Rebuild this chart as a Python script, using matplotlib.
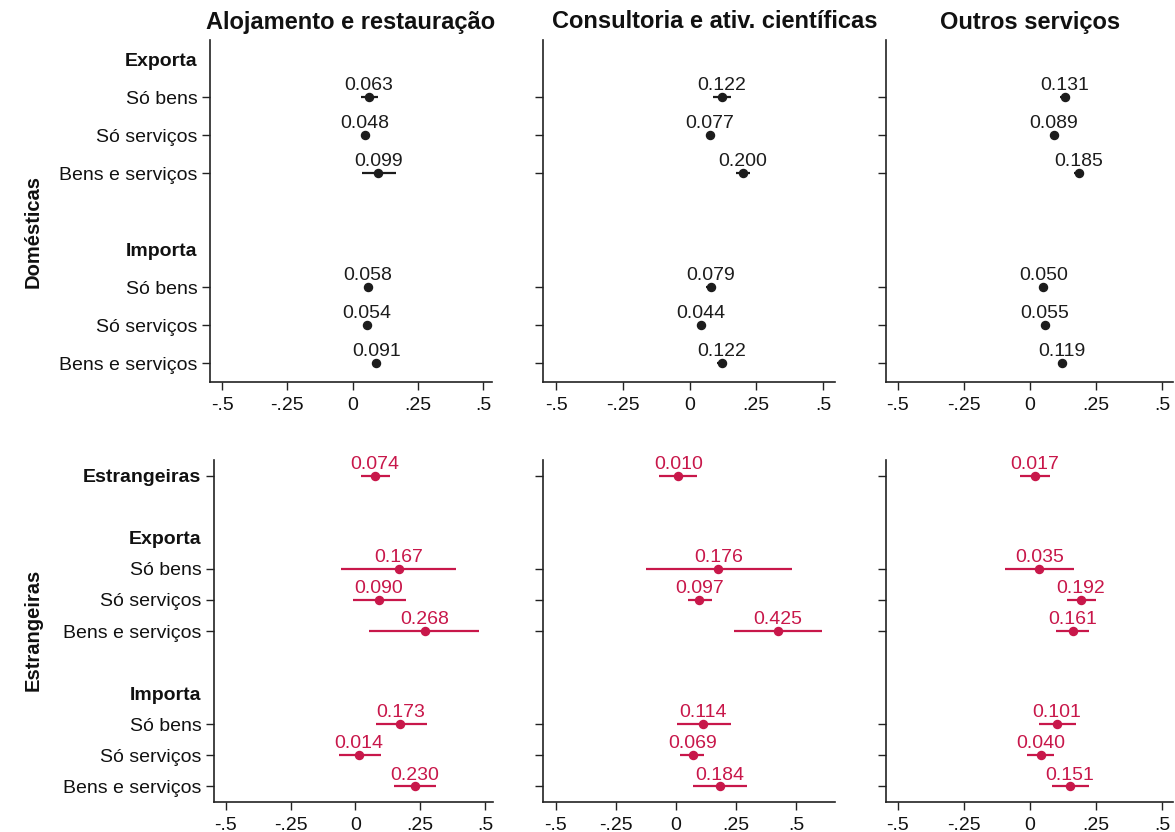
import numpy as np
import matplotlib
matplotlib.use('Agg')
import matplotlib.pyplot as plt

plt.rcParams['font.family'] = ['Liberation Sans', 'DejaVu Sans']

sectors = ['Alojamento e restauração', 'Consultoria e ativ. científicas', 'Outros serviços']
items = ['Só bens', 'Só serviços', 'Bens e serviços']

# domestic firms: export rows then import rows (per sector)
dom_est = [[0.063, 0.048, 0.099, 0.058, 0.054, 0.091],
           [0.122, 0.077, 0.200, 0.079, 0.044, 0.122],
           [0.131, 0.089, 0.185, 0.050, 0.055, 0.119]]
dom_lo = [[0.033, 0.036, 0.036, 0.046, 0.042, 0.079],
          [0.088, 0.065, 0.173, 0.063, 0.033, 0.102],
          [0.111, 0.078, 0.167, 0.040, 0.045, 0.108]]
dom_hi = [[0.096, 0.060, 0.166, 0.070, 0.066, 0.103],
          [0.155, 0.089, 0.228, 0.095, 0.055, 0.142],
          [0.152, 0.100, 0.202, 0.060, 0.065, 0.130]]

# foreign firms: overall, export rows, import rows
for_est = [[0.074, 0.167, 0.090, 0.268, 0.173, 0.014, 0.230],
           [0.010, 0.176, 0.097, 0.425, 0.114, 0.069, 0.184],
           [0.017, 0.035, 0.192, 0.161, 0.101, 0.040, 0.151]]
for_lo = [[0.020, -0.056, -0.011, 0.052, 0.080, -0.064, 0.150],
          [-0.069, -0.126, 0.049, 0.243, 0.003, 0.017, 0.069],
          [-0.038, -0.097, 0.139, 0.097, 0.032, -0.013, 0.082]]
for_hi = [[0.135, 0.388, 0.195, 0.477, 0.275, 0.097, 0.312],
          [0.086, 0.482, 0.151, 0.610, 0.228, 0.118, 0.297],
          [0.076, 0.164, 0.249, 0.223, 0.173, 0.092, 0.221]]

xticks = [-0.5, -0.25, 0, 0.25, 0.5]
xticklabels = ['-.5', '-.25', '0', '.25', '.5']

dark = '#1c1c1c'
red = '#c8174a'

W, H = 1175, 832
fig = plt.figure(figsize=(W / 100, H / 100), dpi=100)

# pixel boxes (left, top, right, bottom) and x limits
top_boxes = [(210, 40, 492, 382), (543, 40, 835, 382), (886, 40, 1173, 382)]
bot_boxes = [(214, 460, 493, 802), (543, 460, 835, 802), (886, 460, 1173, 802)]
top_xlim = [(-0.546, 0.534), (-0.549, 0.545), (-0.545, 0.540)]
bot_xlim = [(-0.546, 0.531), (-0.554, 0.6625), (-0.545, 0.540)]


def make_ax(box):
    l, t, r, b = box
    return fig.add_axes([l / W, 1 - b / H, (r - l) / W, (b - t) / H])


def style(ax, xlim, nrows):
    ax.set_xlim(*xlim)
    ax.set_ylim(nrows - 0.5, -0.5)
    for s in ['top', 'right']:
        ax.spines[s].set_visible(False)
    for s in ['left', 'bottom']:
        ax.spines[s].set_linewidth(1.2)
        ax.spines[s].set_color('#222222')
    ax.set_xticks(xticks)
    ax.set_xticklabels(xticklabels)
    ax.tick_params(axis='both', length=6, width=1.0, color='#222222',
                   labelsize=14, pad=3, labelcolor='#111111')
    ax.tick_params(axis='x', pad=5)


def draw(ax, rows, est, lo, hi, color):
    est = np.array(est)
    ax.hlines(rows, lo, hi, color=color, lw=1.6, zorder=2)
    ax.plot(est, rows, 'o', color=color, ms=5.8, zorder=3)
    for r, v in zip(rows, est):
        ax.annotate('%.3f' % v, (v, r), xytext=(0, 5), textcoords='offset points',
                    ha='center', va='baseline', fontsize=14, color=color)


def set_labels(ax, rows, labels, headers, show):
    ax.set_yticks(rows)
    ax.set_yticklabels(labels if show else [''] * len(rows))
    for tick, lab in zip(ax.yaxis.get_major_ticks(), labels):
        if lab in headers:
            tick.tick1line.set_visible(False)
            tick.label1.set_fontweight('bold')


dom_rows = [1, 2, 3, 6, 7, 8]
for_rows = [0, 3, 4, 5, 8, 9, 10]

for j in range(3):
    ax = make_ax(top_boxes[j])
    style(ax, top_xlim[j], 9)
    draw(ax, dom_rows, dom_est[j], dom_lo[j], dom_hi[j], dark)
    lab_rows = [0, 1, 2, 3, 5, 6, 7, 8]
    labs = ['Exporta'] + items + ['Importa'] + items
    set_labels(ax, lab_rows, labs, ['Exporta', 'Importa'], j == 0)

    ax = make_ax(bot_boxes[j])
    style(ax, bot_xlim[j], 11)
    draw(ax, for_rows, for_est[j], for_lo[j], for_hi[j], red)
    lab_rows = [0, 2, 3, 4, 5, 7, 8, 9, 10]
    labs = ['Estrangeiras', 'Exporta'] + items + ['Importa'] + items
    set_labels(ax, lab_rows, labs, ['Exporta', 'Importa'], j == 0)
    if j == 0:
        ax.yaxis.get_major_ticks()[0].label1.set_fontweight('bold')

# column titles
title_x = [351, 715, 1030]
for x, t in zip(title_x, sectors):
    fig.text(x / W, 1 - 22 / H, t, ha='center', va='center',
             fontsize=17, fontweight='bold', color='#111111')

# row group labels
fig.text(33 / W, 1 - 231 / H, 'Domésticas', rotation=90, ha='center', va='center',
         fontsize=14.5, fontweight='bold', color='#111111')
fig.text(33 / W, 1 - 630 / H, 'Estrangeiras', rotation=90, ha='center', va='center',
         fontsize=14.5, fontweight='bold', color='#111111')

fig.savefig('out.png', dpi=100, facecolor='white')
